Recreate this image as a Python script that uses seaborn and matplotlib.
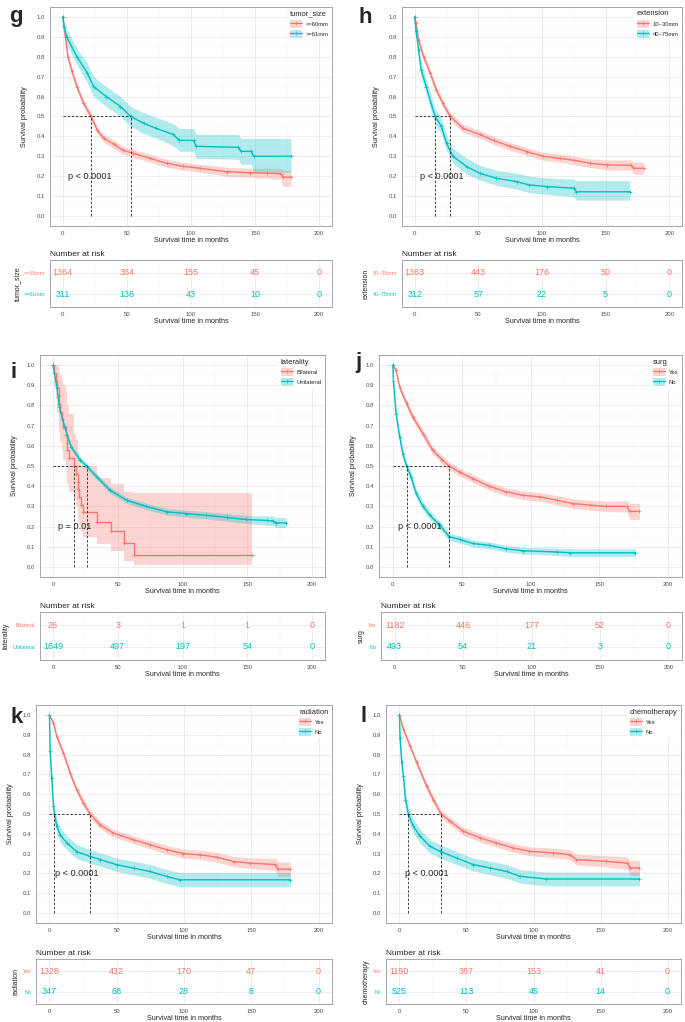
import pandas as pd
import matplotlib
matplotlib.use("Agg")
import matplotlib.pyplot as plt
import seaborn as sns
from matplotlib.lines import Line2D
from matplotlib.patches import Patch
from matplotlib.ticker import MultipleLocator, FormatStrFormatter

RED = "#F8766D"
BLUE = "#00BFC4"

risk_times = [0, 50, 100, 150, 200]

# ---- g: tumor_size ----
g_t1 = [0, 2, 4, 7, 11, 16, 22, 27, 32, 40, 47, 55, 68, 81, 94, 107, 128, 146, 159, 170, 172, 178]
g_s1 = [1.0, 0.9, 0.8, 0.73, 0.65, 0.57, 0.5, 0.43, 0.39, 0.36, 0.33, 0.315, 0.29, 0.265, 0.25, 0.24, 0.223, 0.218, 0.215, 0.213, 0.195, 0.195]
g_lo1 = [1.0, 0.88, 0.78, 0.71, 0.63, 0.55, 0.48, 0.41, 0.37, 0.34, 0.31, 0.295, 0.27, 0.245, 0.23, 0.22, 0.2, 0.195, 0.19, 0.185, 0.15, 0.15]
g_hi1 = [1.0, 0.92, 0.82, 0.75, 0.67, 0.59, 0.52, 0.45, 0.41, 0.38, 0.35, 0.335, 0.31, 0.285, 0.27, 0.26, 0.245, 0.24, 0.24, 0.24, 0.23, 0.23]
g_t2 = [0, 1, 3, 11, 19, 24, 34, 45, 53, 63, 73, 86, 91, 102, 104, 137, 139, 147, 149, 178]
g_s2 = [1.0, 0.95, 0.9, 0.8, 0.72, 0.65, 0.6, 0.55, 0.5, 0.466, 0.44, 0.41, 0.38, 0.38, 0.35, 0.345, 0.325, 0.325, 0.3, 0.3]
g_lo2 = [1.0, 0.92, 0.86, 0.76, 0.67, 0.6, 0.55, 0.5, 0.45, 0.415, 0.39, 0.355, 0.325, 0.325, 0.29, 0.285, 0.26, 0.26, 0.22, 0.22]
g_hi2 = [1.0, 0.98, 0.94, 0.84, 0.77, 0.7, 0.65, 0.6, 0.55, 0.52, 0.495, 0.465, 0.44, 0.44, 0.41, 0.41, 0.39, 0.39, 0.39, 0.39]
g_groups = ["<=60mm", ">=61mm"]
g_risk1 = [1364, 364, 155, 45, 0]
g_risk2 = [311, 136, 43, 10, 0]

# ---- h: extension ----
h_t1 = [0, 1, 3, 7, 12, 17, 22, 28, 38, 51, 62, 75, 88, 101, 114, 125, 138, 151, 170, 172, 180]
h_s1 = [1.0, 0.97, 0.886, 0.8, 0.72, 0.634, 0.567, 0.5, 0.44, 0.41, 0.38, 0.35, 0.324, 0.3, 0.29, 0.28, 0.265, 0.257, 0.255, 0.24, 0.24]
h_lo1 = [1.0, 0.955, 0.87, 0.78, 0.7, 0.614, 0.547, 0.48, 0.42, 0.39, 0.36, 0.33, 0.304, 0.28, 0.27, 0.258, 0.243, 0.232, 0.23, 0.21, 0.21]
h_hi1 = [1.0, 0.985, 0.902, 0.82, 0.74, 0.654, 0.587, 0.52, 0.46, 0.43, 0.4, 0.37, 0.344, 0.32, 0.31, 0.302, 0.287, 0.282, 0.282, 0.27, 0.27]
h_t2 = [0, 1, 3, 5, 9, 16, 21, 25, 30, 41, 51, 64, 80, 90, 104, 125, 127, 169]
h_s2 = [1.0, 0.93, 0.835, 0.735, 0.65, 0.5, 0.45, 0.366, 0.3, 0.248, 0.215, 0.19, 0.173, 0.156, 0.148, 0.14, 0.122, 0.122]
h_lo2 = [1.0, 0.9, 0.8, 0.7, 0.61, 0.46, 0.41, 0.33, 0.265, 0.21, 0.18, 0.155, 0.135, 0.118, 0.108, 0.098, 0.08, 0.08]
h_hi2 = [1.0, 0.96, 0.87, 0.77, 0.69, 0.54, 0.49, 0.405, 0.34, 0.29, 0.255, 0.23, 0.215, 0.2, 0.192, 0.185, 0.178, 0.178]
h_groups = ["10~30mm", "40~75mm"]
h_risk1 = [1363, 443, 176, 50, 0]
h_risk2 = [312, 57, 22, 5, 0]

# ---- i: laterality (Bilateral has few events -> true steps) ----
i_t1 = [0, 1, 2, 3, 4.5, 5, 5.5, 7, 8, 10, 10.5, 11, 12, 16, 18, 19, 19.5, 20, 22, 23, 34, 45, 54.5, 62.5, 154]
i_s1 = [1.0, 0.962, 0.923, 0.885, 0.846, 0.808, 0.769, 0.731, 0.692, 0.654, 0.615, 0.577, 0.538, 0.5, 0.462, 0.423, 0.385, 0.346, 0.308, 0.27, 0.225, 0.18, 0.12, 0.06, 0.06]
i_lo1 = [1.0, 0.89, 0.83, 0.77, 0.72, 0.67, 0.62, 0.58, 0.53, 0.49, 0.45, 0.41, 0.37, 0.34, 0.3, 0.27, 0.24, 0.21, 0.18, 0.15, 0.115, 0.08, 0.03, 0.01, 0.01]
i_hi1 = [1.0, 1.0, 1.0, 1.0, 0.99, 0.97, 0.95, 0.93, 0.9, 0.87, 0.84, 0.8, 0.76, 0.66, 0.63, 0.6, 0.57, 0.54, 0.5, 0.5, 0.44, 0.41, 0.37, 0.365, 0.365]
i_t2 = [0, 3, 5, 9, 14, 21, 26, 34, 44, 57, 72, 88, 103, 118, 134, 149, 165, 170, 172, 180]
i_s2 = [1.0, 0.893, 0.79, 0.694, 0.595, 0.53, 0.5, 0.446, 0.38, 0.33, 0.3, 0.273, 0.264, 0.256, 0.245, 0.235, 0.23, 0.228, 0.218, 0.218]
i_lo2 = [1.0, 0.878, 0.775, 0.679, 0.58, 0.515, 0.485, 0.431, 0.365, 0.315, 0.284, 0.257, 0.247, 0.238, 0.226, 0.215, 0.207, 0.205, 0.195, 0.195]
i_hi2 = [1.0, 0.908, 0.805, 0.709, 0.61, 0.545, 0.515, 0.461, 0.395, 0.345, 0.316, 0.289, 0.281, 0.274, 0.264, 0.255, 0.252, 0.251, 0.245, 0.245]
i_groups = ["Bilateral", "Unilateral"]
i_risk1 = [26, 3, 1, 1, 0]
i_risk2 = [1649, 497, 197, 54, 0]

# ---- j: surg ----
j_t1 = [0, 2.4, 5, 10, 14.5, 22, 29, 36, 41, 48.5, 58, 70, 82, 94.5, 107, 119, 131, 143, 155, 170, 172, 179]
j_s1 = [1.0, 0.975, 0.89, 0.81, 0.744, 0.66, 0.578, 0.53, 0.5, 0.47, 0.438, 0.4, 0.372, 0.355, 0.347, 0.33, 0.314, 0.306, 0.3, 0.3, 0.275, 0.275]
j_lo1 = [1.0, 0.965, 0.875, 0.79, 0.724, 0.64, 0.558, 0.51, 0.48, 0.45, 0.418, 0.38, 0.352, 0.333, 0.325, 0.307, 0.29, 0.281, 0.274, 0.272, 0.235, 0.235]
j_hi1 = [1.0, 0.985, 0.905, 0.83, 0.764, 0.68, 0.598, 0.55, 0.52, 0.49, 0.458, 0.42, 0.392, 0.377, 0.369, 0.353, 0.338, 0.331, 0.326, 0.328, 0.315, 0.315]
j_t2 = [0, 0.5, 2.4, 5, 7.3, 10, 13.3, 17, 22, 27, 34, 41, 48.5, 58, 70, 82, 94.5, 119, 128.5, 176]
j_s2 = [1.0, 0.92, 0.76, 0.645, 0.56, 0.5, 0.446, 0.364, 0.3, 0.256, 0.207, 0.15, 0.136, 0.116, 0.107, 0.09, 0.08, 0.074, 0.07, 0.07]
j_lo2 = [1.0, 0.9, 0.735, 0.62, 0.535, 0.475, 0.42, 0.34, 0.278, 0.235, 0.187, 0.132, 0.118, 0.099, 0.09, 0.073, 0.063, 0.057, 0.052, 0.052]
j_hi2 = [1.0, 0.94, 0.785, 0.67, 0.585, 0.525, 0.472, 0.388, 0.322, 0.277, 0.227, 0.168, 0.154, 0.133, 0.124, 0.107, 0.097, 0.093, 0.09, 0.09]
j_groups = ["Yes", "No"]
j_risk1 = [1182, 446, 177, 52, 0]
j_risk2 = [493, 54, 21, 3, 0]

# ---- k: radiation ----
k_t1 = [0, 3, 5.5, 10.4, 15.4, 20.3, 25.3, 30.2, 37.7, 47.6, 62.5, 74.8, 87, 99.6, 112, 124.4, 136.8, 149, 168, 170, 179]
k_s1 = [1.0, 0.958, 0.89, 0.807, 0.706, 0.622, 0.555, 0.5, 0.445, 0.403, 0.37, 0.345, 0.32, 0.3, 0.294, 0.282, 0.26, 0.252, 0.245, 0.222, 0.222]
k_lo1 = [1.0, 0.945, 0.875, 0.79, 0.688, 0.603, 0.535, 0.48, 0.425, 0.383, 0.35, 0.324, 0.298, 0.277, 0.27, 0.257, 0.234, 0.225, 0.215, 0.185, 0.185]
k_hi1 = [1.0, 0.97, 0.905, 0.824, 0.724, 0.641, 0.575, 0.52, 0.465, 0.423, 0.39, 0.366, 0.342, 0.323, 0.318, 0.307, 0.286, 0.279, 0.276, 0.258, 0.258]
k_t2 = [0, 0.5, 1.7, 3, 3.7, 5.5, 8, 13, 20.3, 30.2, 37.7, 50, 62.5, 74.8, 87, 97, 179]
k_s2 = [1.0, 0.82, 0.68, 0.538, 0.5, 0.437, 0.395, 0.353, 0.31, 0.286, 0.27, 0.244, 0.227, 0.21, 0.185, 0.168, 0.168]
k_lo2 = [1.0, 0.78, 0.64, 0.5, 0.462, 0.4, 0.358, 0.317, 0.275, 0.252, 0.236, 0.21, 0.193, 0.175, 0.15, 0.133, 0.133]
k_hi2 = [1.0, 0.86, 0.72, 0.576, 0.538, 0.474, 0.432, 0.389, 0.345, 0.32, 0.304, 0.278, 0.262, 0.245, 0.22, 0.205, 0.205]
k_groups = ["Yes", "No"]
k_risk1 = [1328, 432, 170, 47, 0]
k_risk2 = [347, 68, 28, 8, 0]

# ---- l: chemotherapy ----
l_t1 = [0, 3, 8, 12.9, 20.3, 25.3, 31, 37.7, 47.6, 60, 72.4, 84.8, 97, 114.5, 127, 132, 154, 170, 172, 179]
l_s1 = [1.0, 0.927, 0.843, 0.76, 0.64, 0.573, 0.5, 0.464, 0.413, 0.38, 0.354, 0.329, 0.312, 0.304, 0.295, 0.27, 0.261, 0.252, 0.228, 0.228]
l_lo1 = [1.0, 0.915, 0.828, 0.743, 0.622, 0.554, 0.48, 0.444, 0.393, 0.359, 0.333, 0.307, 0.289, 0.28, 0.27, 0.243, 0.232, 0.22, 0.19, 0.19]
l_hi1 = [1.0, 0.94, 0.858, 0.777, 0.658, 0.592, 0.52, 0.484, 0.433, 0.401, 0.375, 0.351, 0.335, 0.328, 0.32, 0.297, 0.29, 0.284, 0.266, 0.266]
l_t2 = [0, 0.5, 1.7, 3, 4.5, 6.7, 10.4, 15.4, 22.8, 30.2, 42.6, 55, 67.4, 80, 89.7, 109.5, 179]
l_s2 = [1.0, 0.885, 0.76, 0.69, 0.573, 0.5, 0.438, 0.388, 0.337, 0.312, 0.278, 0.245, 0.228, 0.21, 0.186, 0.172, 0.172]
l_lo2 = [1.0, 0.855, 0.725, 0.655, 0.537, 0.465, 0.403, 0.353, 0.303, 0.278, 0.245, 0.212, 0.194, 0.175, 0.152, 0.137, 0.137]
l_hi2 = [1.0, 0.915, 0.795, 0.725, 0.609, 0.535, 0.473, 0.423, 0.371, 0.346, 0.311, 0.278, 0.262, 0.245, 0.22, 0.207, 0.207]
l_groups = ["Yes", "No"]
l_risk1 = [1150, 387, 153, 41, 0]
l_risk2 = [525, 113, 45, 14, 0]

sns.set_style("white")
plt.rcParams["font.family"] = ["Liberation Sans", "DejaVu Sans"]

W, H = 685, 1022
fig = plt.figure(figsize=(W / 100, H / 100), dpi=100)


def px_box(l, t, r, b):
    return [l / W, 1 - b / H, (r - l) / W, (b - t) / H]


def style_axes(ax):
    for sp in ax.spines.values():
        sp.set_color("#9a9a9a")
        sp.set_linewidth(0.6)
    ax.grid(which="major", color="#e8e8e8", lw=0.5)
    ax.grid(which="minor", color="#f4f4f4", lw=0.35)
    ax.set_axisbelow(True)
    ax.tick_params(which="major", length=2, width=0.5, color="#555555",
                   labelsize=4.3, labelcolor="#4d4d4d", pad=1.5)
    ax.tick_params(which="minor", length=0)


def first_below_half(t, s):
    for tt, ss in zip(t, s):
        if ss <= 0.5:
            return tt
    return None


def km_panel(letter, var, groups, curves, risks, pval, main_px, table_px,
             letter_xy, stepped=(False, False)):
    ax = fig.add_axes(px_box(*main_px))
    style_axes(ax)
    medians = []
    for (t, s, lo, hi), c, st in zip(curves, [RED, BLUE], stepped):
        ds = "steps-post" if st else "default"
        ax.fill_between(t, lo, hi, step="post" if st else None,
                        color=c, alpha=0.3, lw=0)
        df = pd.DataFrame({"time": t, "surv": s})
        sns.lineplot(data=df, x="time", y="surv", ax=ax, color=c, lw=1.0,
                     drawstyle=ds, estimator=None, marker="+",
                     markersize=3, markeredgewidth=0.5, markeredgecolor=c)
        medians.append(first_below_half(t, s))
    ax.plot([0, max(medians)], [0.5, 0.5], color="#222222", lw=0.6, ls=(0, (3, 2)))
    for m in medians:
        ax.plot([m, m], [0, 0.5], color="#222222", lw=0.6, ls=(0, (3, 2)))
    ax.text(4, 0.2, pval, fontsize=6.6, ha="left", va="center")
    ax.set_xlim(-10, 210)
    ax.set_ylim(-0.05, 1.05)
    ax.xaxis.set_major_locator(MultipleLocator(50))
    ax.xaxis.set_minor_locator(MultipleLocator(25))
    ax.yaxis.set_major_locator(MultipleLocator(0.1))
    ax.yaxis.set_minor_locator(MultipleLocator(0.05))
    ax.yaxis.set_major_formatter(FormatStrFormatter("%.1f"))
    ax.set_xlabel("Survival time in months", fontsize=5.2, labelpad=1)
    ax.set_ylabel("Survival probability", fontsize=5.2, labelpad=6)
    handles = [(Patch(facecolor=c, alpha=0.3, edgecolor="none"),
                Line2D([], [], color=c, lw=0.9, marker="+", ms=3, mew=0.5))
               for c in [RED, BLUE]]
    leg = ax.legend(handles, groups, title=var, loc="upper right",
                    bbox_to_anchor=(1.0, 1.0), fontsize=4.2, title_fontsize=5.4,
                    frameon=True, facecolor="white", edgecolor="none", framealpha=1,
                    alignment="left", borderaxespad=0.2, handlelength=2.1,
                    handleheight=1.8, labelspacing=0.35, borderpad=0.4,
                    handletextpad=0.6)
    leg.get_frame().set_boxstyle("square", pad=0)
    fig.text(letter_xy[0] / W, 1 - letter_xy[1] / H, letter, fontsize=16,
             fontweight="bold", ha="left", va="baseline")

    tx = fig.add_axes(px_box(*table_px))
    style_axes(tx)
    tx.set_xlim(-10, 210)
    tx.set_ylim(0.4, 2.6)
    tx.xaxis.set_major_locator(MultipleLocator(50))
    tx.xaxis.set_minor_locator(MultipleLocator(25))
    tx.set_yticks([2, 1])
    tx.set_yticklabels(groups)
    for lab, c in zip(tx.get_yticklabels(), [RED, BLUE]):
        lab.set_color(c)
        lab.set_fontsize(3.8)
    for row_y, vals, c in zip([2, 1], risks, [RED, BLUE]):
        for x, v in zip(risk_times, vals):
            tx.text(x, row_y, str(v), color=c, fontsize=6.5, ha="center", va="center")
    tx.set_title("Number at risk", loc="left", fontsize=6, pad=3)
    tx.set_xlabel("Survival time in months", fontsize=5.2, labelpad=1)
    tx.set_ylabel(var, fontsize=5, labelpad=2)


km_panel("g", "tumor_size", g_groups,
         [(g_t1, g_s1, g_lo1, g_hi1), (g_t2, g_s2, g_lo2, g_hi2)],
         [g_risk1, g_risk2], "p < 0.0001",
         (50, 7, 332, 226), (50, 260, 332, 307), (9, 22))
km_panel("h", "extension", h_groups,
         [(h_t1, h_s1, h_lo1, h_hi1), (h_t2, h_s2, h_lo2, h_hi2)],
         [h_risk1, h_risk2], "p < 0.0001",
         (402, 7, 682, 226), (402, 260, 682, 307), (359, 23))
km_panel("i", "laterality", i_groups,
         [(i_t1, i_s1, i_lo1, i_hi1), (i_t2, i_s2, i_lo2, i_hi2)],
         [i_risk1, i_risk2], "p = 0.01",
         (40, 355, 325, 577), (40, 612, 325, 660), (11, 378),
         stepped=(True, False))
km_panel("j", "surg", j_groups,
         [(j_t1, j_s1, j_lo1, j_hi1), (j_t2, j_s2, j_lo2, j_hi2)],
         [j_risk1, j_risk2], "p < 0.0001",
         (379, 355, 682, 577), (381, 612, 682, 660), (355, 368))
km_panel("k", "radiation", k_groups,
         [(k_t1, k_s1, k_lo1, k_hi1), (k_t2, k_s2, k_lo2, k_hi2)],
         [k_risk1, k_risk2], "p < 0.0001",
         (36, 705, 332, 923), (36, 959, 332, 1004), (10, 723))
km_panel("l", "chemotherapy", l_groups,
         [(l_t1, l_s1, l_lo1, l_hi1), (l_t2, l_s2, l_lo2, l_hi2)],
         [l_risk1, l_risk2], "p < 0.0001",
         (386, 705, 681, 923), (386, 959, 681, 1004), (361, 722))

fig.savefig("out.png", dpi=100)
